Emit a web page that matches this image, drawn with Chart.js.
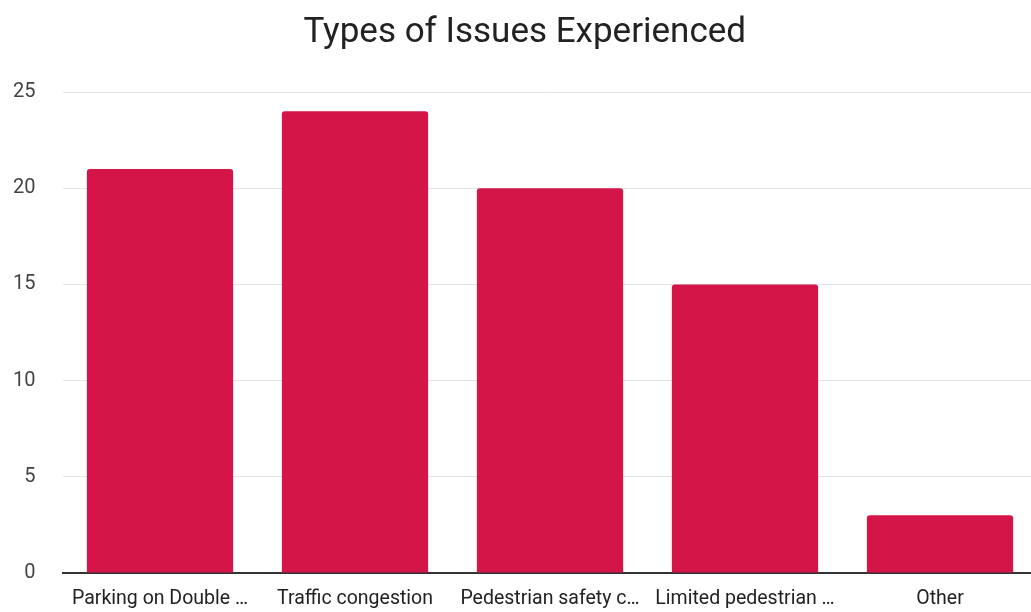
<!DOCTYPE html>
<html>
<head>
<meta charset="utf-8">
<script src="https://cdn.jsdelivr.net/npm/chart.js@4/dist/chart.umd.min.js"></script>
<style>
  html, body { margin: 0; padding: 0; background: #fff; overflow: hidden; }
  #wrap { width: 1051px; height: 612px; }
</style>
</head>
<body>
<div id="wrap"><canvas id="issuesChart" width="1051" height="612"></canvas></div>
<script>
// Kategorien (abgeschnitten wie im Original)
const categories = [
  "Parking on Double …",
  "Traffic congestion",
  "Pedestrian safety c…",
  "Limited pedestrian …",
  "Other"
];

// Anzahl der Nennungen
const issueCounts = [21, 24, 20, 15, 3];

const yTicks = [0, 5, 10, 15, 20, 25];

const barColor = "#d41548";

let ctx = document.getElementById("issuesChart").getContext("2d");
new Chart(ctx, {
  type: "bar",
  data: {
    labels: categories,
    datasets: [
      {
        data: issueCounts,
        backgroundColor: barColor,
        borderRadius: 3,
        borderSkipped: "bottom",
        barPercentage: 0.75,
        categoryPercentage: 1.0,
      },
    ],
  },
  options: {
    responsive: false,
    animation: false,
    layout: {
      padding: { left: 12, right: 13.5, top: 0, bottom: 0 },
    },
    plugins: {
      legend: { display: false },
      tooltip: { enabled: false },
      title: {
        display: true,
        text: "Types of Issues Experienced",
        color: "#222",
        font: { family: "Roboto", size: 35, weight: "normal" },
        padding: { top: 12, bottom: 38 },
      },
    },
    scales: {
      x: {
        grid: { display: false, drawTicks: false },
        border: { color: "#333", width: 2 },
        afterFit: (axis) => {
          axis.height = 39;
        },
        ticks: {
          color: "#222",
          font: { family: "Roboto", size: 19.5 },
          padding: 14,
          maxRotation: 0,
          autoSkip: false,
        },
      },
      y: {
        min: yTicks[0],
        max: yTicks[yTicks.length - 1],
        afterBuildTicks: (axis) => {
          axis.ticks = yTicks.map((v) => ({ value: v }));
        },
        afterFit: (axis) => {
          axis.width = 50.5;
        },
        grid: { color: "#e3e3e3", lineWidth: 1, drawTicks: false },
        border: { display: false },
        ticks: {
          color: "#444",
          font: { family: "Roboto", size: 20 },
          padding: 27,
        },
      },
    },
  },
});
</script>
</body>
</html>
